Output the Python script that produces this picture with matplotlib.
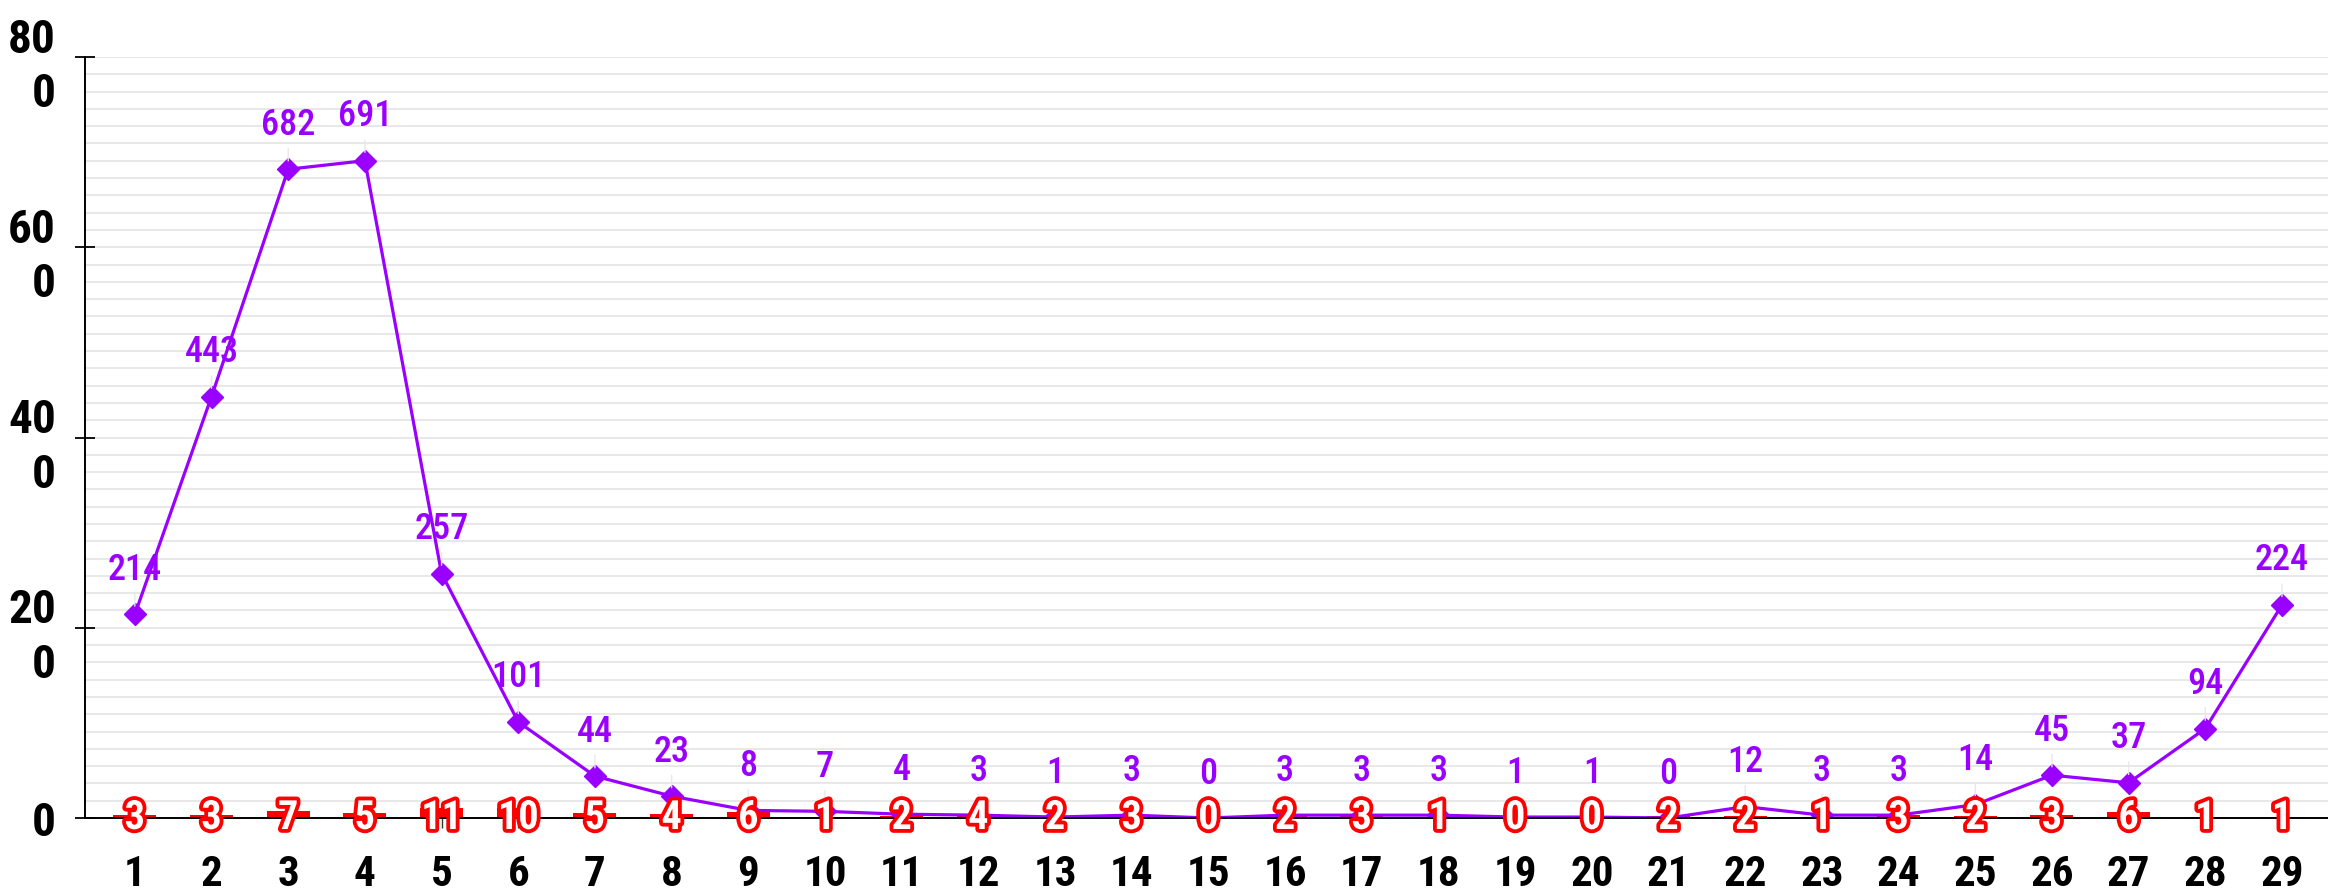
import matplotlib
matplotlib.use("Agg")
import matplotlib.pyplot as plt
import matplotlib.patheffects as pe
from matplotlib import font_manager

categories = [str(i) for i in range(1, 30)]
line_values = [214, 443, 682, 691, 257, 101, 44, 23, 8, 7, 4, 3, 1, 3, 0,
               3, 3, 3, 1, 1, 0, 12, 3, 3, 14, 45, 37, 94, 224]
bar_values = [3, 3, 7, 5, 11, 10, 5, 4, 6, 1, 2, 4, 2, 3, 0,
              2, 3, 1, 0, 0, 2, 2, 1, 3, 2, 3, 6, 1, 1]
y_ticks = [0, 200, 400, 600, 800]
y_tick_labels = ["0", "20\n0", "40\n0", "60\n0", "80\n0"]

PURPLE = "#9900ff"
RED = "#ff0000"


def pick(*candidates):
    names = {f.name for f in font_manager.fontManager.ttflist}
    for c in candidates:
        if c in names:
            return c
    return "DejaVu Sans"


AXIS_FONT = pick("Roboto Condensed", "Roboto")
LABEL_FONT = pick("Roboto Condensed", "Roboto")

fig = plt.figure(figsize=(23.28, 8.96), dpi=100)
ax = fig.add_axes([85 / 2328, 78 / 896, 1 - 85 / 2328, 761 / 896])

x = list(range(1, len(categories) + 1))

# light grid
for k in range(1, 45):
    ax.axhline(800 * k / 44, color="#e6e6e6", lw=1.3, zorder=0)

ax.bar(x, bar_values, width=0.56, color=RED, zorder=2)
ax.plot(x, line_values, color=PURPLE, lw=2.3, marker="D", ms=11, zorder=3)

for xi, v in zip(x, line_values):
    ax.annotate(str(v), xy=(xi, v), xytext=(0, 32), textcoords="offset points",
                ha="center", va="center", color=PURPLE, fontsize=26,
                family=LABEL_FONT, fontweight="medium",
                arrowprops=dict(arrowstyle="-", color="#e8e8e8", lw=1,
                                relpos=(0.5, 0), shrinkA=2, shrinkB=6),
                zorder=5)

for xi, v in zip(x, bar_values):
    t = ax.text(xi, 0, str(v), ha="center", va="center", color="white",
                fontsize=29, family=LABEL_FONT, fontweight="bold", zorder=6)
    t.set_path_effects([pe.Stroke(linewidth=5.5, foreground=RED), pe.Normal()])

ax.set_xlim(0.35, 29.6)
ax.set_ylim(0, 800)
ax.set_xticks(x)
ax.set_xticklabels(categories, family=AXIS_FONT, fontweight="bold", fontsize=31)
ax.set_yticks(y_ticks)
ax.set_yticklabels(y_tick_labels, family=AXIS_FONT, fontweight="bold", fontsize=34)
for lab in ax.get_yticklabels():
    lab.set_linespacing(1.3)
    lab.set_multialignment("right")

ax.tick_params(axis="y", direction="inout", length=14, width=1.3, pad=14)
ax.tick_params(axis="x", direction="out", length=7, width=1.0, pad=19,
               color="#333333")

for side in ["top", "right"]:
    ax.spines[side].set_visible(False)
ax.spines["left"].set_linewidth(1.4)
ax.spines["bottom"].set_linewidth(1.4)
ax.spines["bottom"].set_zorder(4)

fig.savefig("out.png", dpi=100)
